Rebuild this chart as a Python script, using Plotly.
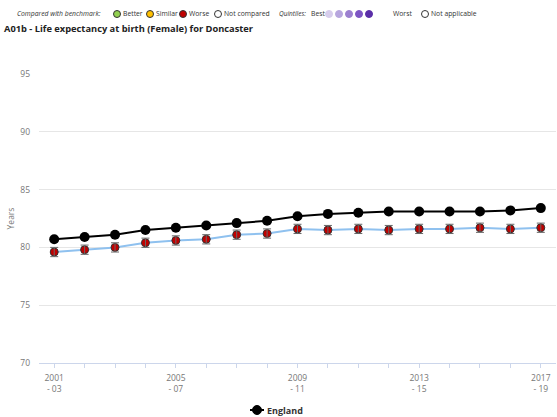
import plotly.graph_objects as go

# Rolling three-year periods
periods = ["2001<br>- 03", "2002<br>- 04", "2003<br>- 05", "2004<br>- 06", "2005<br>- 07",
           "2006<br>- 08", "2007<br>- 09", "2008<br>- 10", "2009<br>- 11", "2010<br>- 12",
           "2011<br>- 13", "2012<br>- 14", "2013<br>- 15", "2014<br>- 16", "2015<br>- 17",
           "2016<br>- 18", "2017<br>- 19"]
shown_ticks = ["2001<br>- 03", "2005<br>- 07", "2009<br>- 11", "2013<br>- 15", "2017<br>- 19"]

england = [80.7, 80.9, 81.1, 81.5, 81.7, 81.9, 82.1, 82.3, 82.7, 82.9,
           83.0, 83.1, 83.1, 83.1, 83.1, 83.2, 83.4]
doncaster = [79.6, 79.8, 80.0, 80.4, 80.6, 80.7, 81.1, 81.2, 81.6, 81.5,
             81.6, 81.5, 81.6, 81.6, 81.7, 81.6, 81.7]
doncaster_ci = [0.4, 0.4, 0.4, 0.4, 0.4, 0.4, 0.4, 0.4, 0.4, 0.4,
                0.4, 0.4, 0.4, 0.4, 0.4, 0.4, 0.4]

FONT = "Open Sans"

fig = go.Figure()

fig.add_trace(go.Scatter(
    x=periods, y=doncaster, mode="lines+markers", name="Doncaster", showlegend=False,
    line=dict(color="#8fc1ef", width=2),
    marker=dict(color="#c00000", size=8, line=dict(color="#333333", width=1)),
))
# Confidence intervals drawn on top of the Doncaster markers
fig.add_trace(go.Scatter(
    x=periods, y=doncaster, mode="markers", showlegend=False, hoverinfo="skip",
    marker=dict(size=1, opacity=0),
    error_y=dict(type="data", array=doncaster_ci, color="#666666", thickness=1, width=4),
))
fig.add_trace(go.Scatter(
    x=periods, y=england, mode="lines+markers", name="England", showlegend=False,
    line=dict(color="#000000", width=2),
    marker=dict(color="#000000", size=10),
))

# Plot area in pixels: x 39..556, y 74..363
L, R, T, B = 39, 556, 74, 363
W, H = 557, 417


def px(x):
    return (x - L) / (R - L)


def py(y):
    return (B - y) / (B - T)


annotations = []
shapes = []


def label(x, y, text, italic=False, bold=False, size=6.8, color="#333333", anchor="left"):
    t = text
    if italic:
        t = "<i>" + t + "</i>"
    if bold:
        t = "<b>" + t + "</b>"
    annotations.append(dict(x=px(x), y=py(y), xref="paper", yref="paper", text=t,
                            showarrow=False, xanchor=anchor, yanchor="middle",
                            xshift=-1, font=dict(family=FONT, size=size, color=color)))


def dot(x, y, fill, r=3.5, line="#333333"):
    shapes.append(dict(type="circle", xref="paper", yref="paper", xsizemode="pixel",
                       ysizemode="pixel", xanchor=px(x), yanchor=py(y),
                       x0=-r, x1=r, y0=-r, y1=r, fillcolor=fill,
                       line=dict(color=line, width=1)))


# Benchmark key
label(16, 14, "Compared with benchmark:", italic=True)
dot(117, 14, "#92d050")
label(122, 14, "Better")
dot(150, 14, "#ffc000")
label(155, 14, "Similar")
dot(183, 14, "#c00000")
label(188, 14, "Worse")
dot(218, 14, "#ffffff")
label(223, 14, "Not compared")
label(278, 14, "Quintiles:", italic=True, size=6.5)
label(310, 14, "Best")
for cx, c in zip([329, 339, 349, 359, 369],
                 ["#d7cdec", "#b7a6de", "#9c80d0", "#7d55c4", "#5a2ea8"]):
    dot(cx, 14, c, line=c)
label(392, 14, "Worst")
dot(425, 14, "#ffffff")
label(430, 14, "Not applicable")

# Title
label(3, 28, "A01b - Life expectancy at birth (Female) for Doncaster", bold=True, size=9.3,
      color="#222222")

# Legend entry for the England series
shapes.append(dict(type="line", xref="paper", yref="paper",
                   x0=px(250), x1=px(264), y0=py(410), y1=py(410),
                   line=dict(color="#000000", width=2)))
dot(257, 410, "#000000", r=4.5, line="#000000")
label(266, 410, "England", bold=True, size=9, color="#333333")

fig.update_layout(
    width=W, height=H,
    margin=dict(l=L, r=W - R, t=T, b=H - B, autoexpand=False),
    paper_bgcolor="white", plot_bgcolor="white",
    font=dict(family=FONT, size=8.5, color="#666666"),
    annotations=annotations, shapes=shapes, showlegend=False,
    xaxis=dict(
        type="category", range=[-0.5, 16.5], automargin=False,
        tickmode="array", tickvals=periods,
        ticktext=[p if p in shown_ticks else "" for p in periods],
        ticks="outside", ticklen=4, tickcolor="#ccd6eb",
        showline=True, linecolor="#ccd6eb", linewidth=1,
        ticklabelstandoff=3,
        showgrid=False, tickfont=dict(family=FONT, size=8.5, color="#777777"),
    ),
    yaxis=dict(
        range=[70, 95], tickvals=[70, 75, 80, 85, 90, 95], automargin=False,
        showgrid=True, gridcolor="#e6e6e6", gridwidth=1, zeroline=False,
        ticklabelstandoff=8,
        tickfont=dict(family=FONT, size=8.5, color="#777777"),
        title=dict(text="Years", font=dict(family=FONT, size=8.5, color="#777777"), standoff=4),
    ),
)

fig.write_html("out.html")
